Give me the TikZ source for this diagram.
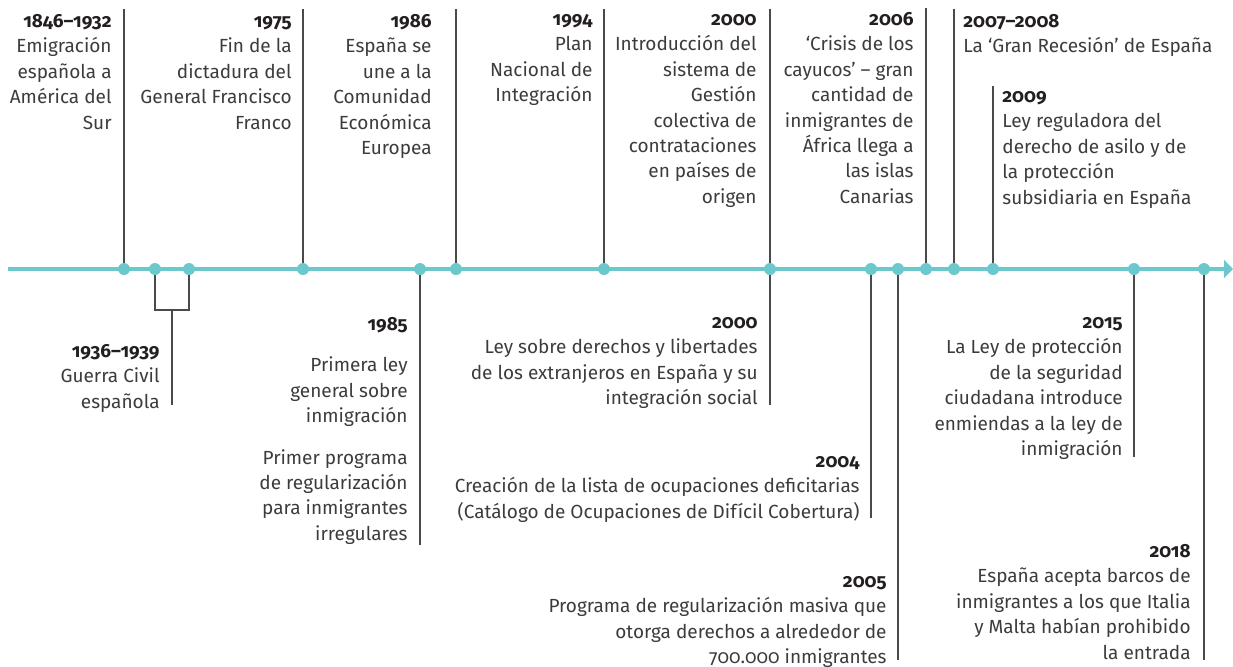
\documentclass[tikz,border=0pt]{standalone}
\usepackage{fontspec}
\setmainfont[Numbers=OldStyle]{Fira Sans}
\usepackage{xcolor}
\usepackage{tikz}
\usetikzlibrary{arrows.meta}
\definecolor{axisteal}{HTML}{6BC9CE}
\definecolor{textgray}{HTML}{3C3C3B}
\definecolor{yeargray}{HTML}{231F20}
\definecolor{stemgray}{HTML}{4A4A4A}
\newcommand\yr[1]{{\bfseries\color{yeargray}\strut#1}}
\tikzstyle{axis}=[line width=2pt,axisteal,-{Triangle[length=4.5pt,width=9pt]}]
\tikzstyle{dot}=[circle,fill=axisteal,inner sep=0pt,minimum size=6pt]
\tikzstyle{stem}=[line width=.6pt,stemgray]
% first baseline sits on the given point (strut height = .7 x 12.7pt)
\tikzstyle{evl}=[anchor=north east,yshift=8.89pt,align=right,inner sep=0pt,text=textgray,font=\fontsize{9.5}{12.7}\selectfont]
\tikzstyle{evr}=[evl,anchor=north west,align=left]

\begin{document}
\begin{tikzpicture}[x=.5pt,y=-.5pt]
	\useasboundingbox (0,0) rectangle (1233,666);
	% time axis
	\coordinate (axL) at (8,269);
	\coordinate (axR) at (1233,269);
	\draw[axis] (axL) -- (axR);
	\node[dot] (d1846)  at (124,269) {};
	\node[dot] (d1936a) at (155,269) {};
	\node[dot] (d1936b) at (189,269) {};
	\node[dot] (d1975)  at (303,269) {};
	\node[dot] (d1985)  at (420,269) {};
	\node[dot] (d1986)  at (456,269) {};
	\node[dot] (d1994)  at (604,269) {};
	\node[dot] (d2000)  at (770,269) {};
	\node[dot] (d2004)  at (871,269) {};
	\node[dot] (d2005)  at (898,269) {};
	\node[dot] (d2006)  at (926,269) {};
	\node[dot] (d2007)  at (954,269) {};
	\node[dot] (d2009)  at (993,269) {};
	\node[dot] (d2015)  at (1134,269) {};
	\node[dot] (d2018)  at (1204,269) {};
	% ends of the stems
	\coordinate (t1846) at (124,9);
	\coordinate (t1975) at (303,9);
	\coordinate (t1986) at (456,9);
	\coordinate (t1994) at (604,9);
	\coordinate (t2000) at (770,9);
	\coordinate (t2006) at (926,8);
	\coordinate (t2007) at (954,9);
	\coordinate (t2009) at (993,86);
	\coordinate (j1936) at (172,310);
	\coordinate (b1936) at (172,405);
	\coordinate (b1985) at (420,545);
	\coordinate (b2000) at (770,405);
	\coordinate (b2004) at (871,518);
	\coordinate (b2005) at (898,660);
	\coordinate (b2015) at (1134,457);
	\coordinate (b2018) at (1204,660);
	\draw[stem] (d1846) -- (t1846);
	\draw[stem] (d1975) -- (t1975);
	\draw[stem] (d1986) -- (t1986);
	\draw[stem] (d1994) -- (t1994);
	\draw[stem] (d2000) -- (t2000);
	\draw[stem] (d2006) -- (t2006);
	\draw[stem] (d2007) -- (t2007);
	\draw[stem] (d2009) -- (t2009);
	\draw[stem] (d1936a) |- (j1936) -| (d1936b);
	\draw[stem] (j1936) -- (b1936);
	\draw[stem] (d1985) -- (b1985);
	\draw[stem] (d2000) -- (b2000);
	\draw[stem] (d2004) -- (b2004);
	\draw[stem] (d2005) -- (b2005);
	\draw[stem] (d2015) -- (b2015);
	\draw[stem] (d2018) -- (b2018);
	% events above the axis
	\node[evl] (e1846) at (112,27) {\yr{1846–1932}\\Emigración\\española a\\América del\\Sur};
	\node[evl] (e1975) at (292,27) {\yr{1975}\\Fin de la\\dictadura del\\General Francisco\\Franco};
	\node[evl] (e1986) at (432,27) {\yr{1986}\\España se\\une a la\\Comunidad\\Económica\\Europea};
	\node[evl] (e1994) at (593,25) {\yr{1994}\\Plan\\Nacional de\\Integración};
	\node[evl] (e2000t) at (757,25) {\yr{2000}\\Introducción del\\sistema de\\Gestión\\colectiva de\\contrataciones\\en países de\\origen};
	\node[evl] (e2006) at (914,25) {\yr{2006}\\‘Crisis de los\\cayucos’ – gran\\cantidad de\\inmigrantes de\\África llega a\\las islas\\Canarias};
	\node[evr] (e2007) at (963,27) {\yr{2007–2008}\\La ‘Gran Recesión’ de España};
	\node[evr] (e2009) at (1002,102) {\yr{2009}\\Ley reguladora del\\derecho de asilo y de\\la protección\\subsidiaria en España};
	% events below the axis
	\node[evl] (e1936) at (160,357) {\yr{1936–1939}\\Guerra Civil\\española};
	\node[evl] (e1985) at (408,330) {\yr{1985}\\[8pt]Primera ley\\general sobre\\inmigración\\[8pt]Primer programa\\de regularización\\para inmigrantes\\irregulares};
	\node[evl] (e2000b) at (758,328) {\yr{2000}\\Ley sobre derechos y libertades\\de los extranjeros en España y su\\integración social};
	\node[evl] (e2004) at (860,467) {\yr{2004}\\Creación de la lista de ocupaciones deficitarias\\(Catálogo de Ocupaciones de Difícil Cobertura)};
	\node[evl] (e2005) at (887,587) {\yr{2005}\\Programa de regularización masiva que\\otorga derechos a alrededor de\\700.000 inmigrantes};
	\node[evl] (e2015) at (1123,328) {\yr{2015}\\La Ley de protección\\de la seguridad\\ciudadana introduce\\enmiendas a la ley de\\inmigración};
	\node[evl] (e2018) at (1191,557) {\yr{2018}\\España acepta barcos de\\inmigrantes a los que Italia\\y Malta habían prohibido\\la entrada};
\end{tikzpicture}
\end{document}
